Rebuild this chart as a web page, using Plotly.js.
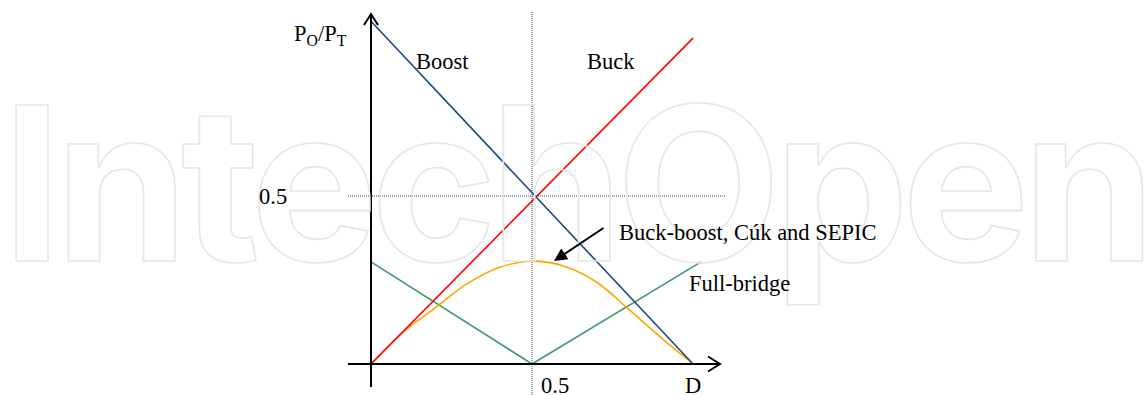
<!DOCTYPE html>
<html>
<head>
<meta charset="utf-8">
<script src="https://cdn.plot.ly/plotly-3.0.1.min.js"></script>
<style>
  html, body { margin: 0; padding: 0; background: #ffffff; }
  #chart { width: 1148px; height: 395px; }
  .annotation[data-index="0"] .annotation-text {
    fill: none !important;
    stroke: #e6e6e6 !important;
    stroke-width: 1.6px !important;
    letter-spacing: -7px;
  }
</style>
</head>
<body>
<div id="chart"></div>
<script>
// Duty cycle D and normalised power P_O/P_T
const buckD = [0, 1];
const buckP = [0, 0.97];
const boostD = [0, 1];
const boostP = [1.02, 0];
const fullBridgeD = [0, 0.5, 1.025];
const fullBridgeP = [0.304, 0, 0.304];
const buckBoostD = [0, 0.1, 0.2, 0.3, 0.4, 0.5, 0.6, 0.7, 0.8, 0.9, 1.0];
const buckBoostP = [0, 0.095, 0.168, 0.240, 0.288, 0.306, 0.291, 0.244, 0.163, 0.079, 0];

const seriesNames = ["Buck", "Boost", "Full-bridge", "Buck-boost, Cúk and SEPIC"];
const seriesColors = ["#ff0000", "#1a4a80", "#3a9a6a", "#ffa500"];
const refValue = 0.5;
const tickLabel = "0.5";
const xAxisLabel = "D";
const yAxisLabel = "P<sub>O</sub>/P<sub>T</sub>";
const watermark = "IntechOpen";

// pixel geometry of the sketch (origin at 371,364; 322 px per unit in D, 336 px per unit in P)
const W = 1148, H = 395;
const ox = 371, oy = 364, kx = 322, ky = 336;
const xRange = [-ox / kx, (W - ox) / kx];
const yRange = [(oy - H) / ky, oy / ky];
const px = v => v / kx;  // pixel length -> D units
const py = v => v / ky;  // pixel length -> P units

const serif = "Liberation Serif, Times New Roman, serif";

const traces = [
  { x: fullBridgeD, y: fullBridgeP, name: seriesNames[2], mode: "lines",
    line: { color: seriesColors[2], width: 1.6 } },
  { x: buckBoostD, y: buckBoostP, name: seriesNames[3], mode: "lines",
    line: { color: seriesColors[3], width: 1.6, shape: "spline", smoothing: 1 } },
  { x: boostD, y: boostP, name: seriesNames[1], mode: "lines",
    line: { color: seriesColors[1], width: 1.6 } },
  { x: buckD, y: buckP, name: seriesNames[0], mode: "lines",
    line: { color: seriesColors[0], width: 1.6 } }
];

const axTop = yRange[1] - py(14);
const xAxisEnd = px(720 - ox);
const yAxisBottom = -py(23);
const xAxisStart = -px(23);

const shapes = [
  // dotted reference lines
  { type: "line", xref: "x", yref: "y", x0: refValue, x1: refValue, y0: yRange[0], y1: yRange[1] - py(12),
    line: { color: "#444", width: 1, dash: "1px,1px" } },
  { type: "line", xref: "x", yref: "y", x0: xAxisStart, x1: px(725 - ox), y0: refValue, y1: refValue,
    line: { color: "#444", width: 1, dash: "1px,1px" } },
  // y axis with open arrowhead
  { type: "line", xref: "x", yref: "y", x0: 0, x1: 0, y0: yAxisBottom, y1: axTop,
    line: { color: "#000", width: 2 } },
  { type: "path", xref: "x", yref: "y",
    path: `M ${-px(7)} ${axTop - py(11)} L 0 ${axTop} L ${px(7)} ${axTop - py(11)}`,
    line: { color: "#000", width: 2 } },
  // x axis with open arrowhead
  { type: "line", xref: "x", yref: "y", x0: xAxisStart, x1: xAxisEnd, y0: 0, y1: 0,
    line: { color: "#000", width: 2 } },
  { type: "path", xref: "x", yref: "y",
    path: `M ${xAxisEnd - px(12)} ${py(7.5)} L ${xAxisEnd} 0 L ${xAxisEnd - px(12)} ${-py(7.5)}`,
    line: { color: "#000", width: 2 } }
];

const txt = (text, x, y, xanchor, size) => ({
  text: text, x: x, y: y, xref: "x", yref: "y", xanchor: xanchor, yanchor: "middle",
  showarrow: false, font: { family: serif, size: size || 22.5, color: "#000" }
});

const annotations = [
  { text: watermark, xref: "paper", yref: "paper", x: 575 / W, y: 0.535,
    xanchor: "center", yanchor: "middle", showarrow: false,
    font: { family: "Inter, Open Sans, sans-serif", size: 214, weight: 700, color: "#e6e6e6" } },
  txt(yAxisLabel, px(320 - ox), py(oy - 35), "center"),
  txt(seriesNames[1], px(414 - ox), py(oy - 61), "left"),
  txt(seriesNames[0], px(585 - ox), py(oy - 61), "left"),
  txt(tickLabel, -px(ox - 289), refValue, "right"),
  txt(tickLabel, refValue + px(7), -py(21), "left"),
  txt(xAxisLabel, 1, -py(21), "center"),
  txt(seriesNames[3], px(617 - ox), py(oy - 232), "left"),
  txt(seriesNames[2], px(687 - ox), py(oy - 283), "left"),
  { text: "", x: px(554 - ox), y: py(oy - 261), xref: "x", yref: "y",
    ax: px(605 - ox), ay: py(oy - 227), axref: "x", ayref: "y",
    showarrow: true, arrowhead: 2, arrowsize: 1.3, arrowwidth: 2, arrowcolor: "#000" }
];

const layout = {
  width: W, height: H,
  margin: { l: 0, r: 0, t: 0, b: 0, pad: 0 },
  paper_bgcolor: "#ffffff", plot_bgcolor: "#ffffff",
  showlegend: false,
  xaxis: { range: xRange, visible: false, fixedrange: true },
  yaxis: { range: yRange, visible: false, fixedrange: true },
  shapes: shapes,
  annotations: annotations
};

Plotly.newPlot("chart", traces, layout, { staticPlot: true, displayModeBar: false });
</script>
</body>
</html>
